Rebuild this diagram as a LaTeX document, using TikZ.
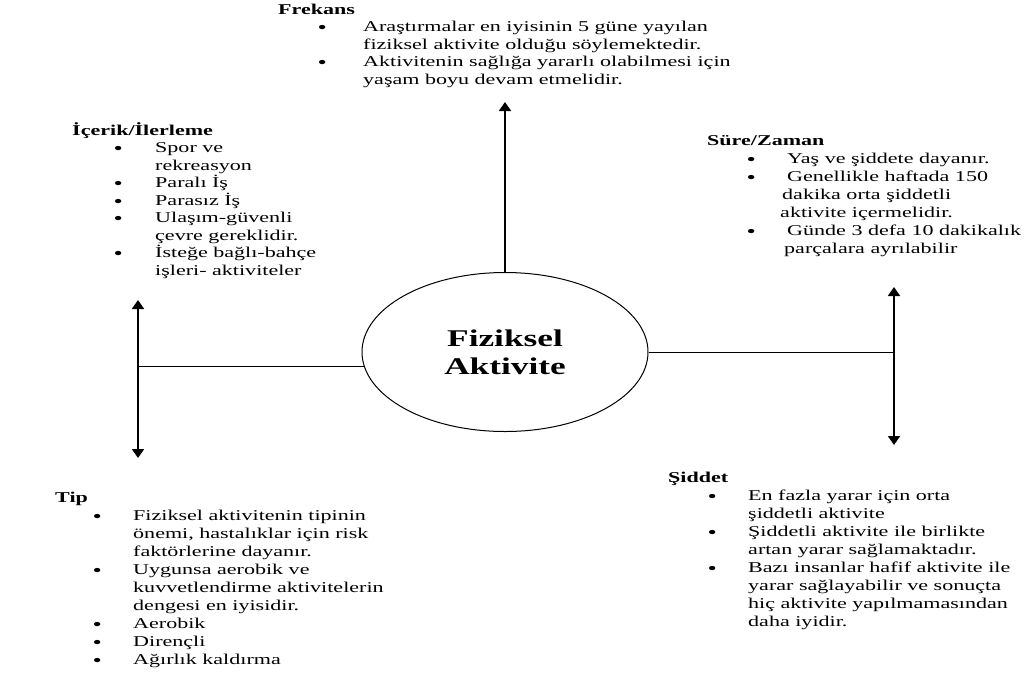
\documentclass[tikz,border=0pt]{standalone}
\usepackage{fontspec}
\setmainfont{Liberation Serif}[FakeStretch=1.47]
\usepackage{tikz}
\usetikzlibrary{arrows.meta}
\usetikzlibrary{shapes.geometric}
\usetikzlibrary{positioning}
\tikzset{
  x = 1pt,
  y = -1pt,
  >={Triangle[width=12pt,length=9pt]},
  merkez/.style = {ellipse, draw, line width=1pt, minimum width=286pt,
    minimum height=159pt, inner sep=0pt, align=center,
    font=\fontsize{24}{28}\selectfont\bfseries},
  blok/.style = {anchor=north west, inner sep=0pt,
    font=\fontsize{15}{17.5}\selectfont},
  genisblok/.style = {blok, font=\fontsize{15}{18}\selectfont},
  ok/.style = {line width=1.8pt},
  ince/.style = {line width=0.9pt},
}
\newcommand{\nokta}{\makebox[8pt]{\raisebox{-1.8pt}[0pt][0pt]{\fontsize{18}{0}\selectfont\textbullet}}}
\newcommand{\liste}[4]{%
  \begin{tabular}{@{\hspace{#1pt}}c@{\hspace{#2pt}}l@{}}
    \multicolumn{2}{@{}l@{}}{\textbf{#3}}\\
    #4
  \end{tabular}}

\begin{document}
\begin{tikzpicture}
    \useasboundingbox (0,0) rectangle (1032,675);
    \node [merkez] (fa) at (505,352) {Fiziksel\\Aktivite};
    \node [blok] (frekans) at (278,2) {\liste{40}{37}{Frekans}{%
      \nokta & Araştırmalar en iyisinin 5 güne yayılan\\
             & fiziksel aktivite olduğu söylemektedir.\\
      \nokta & Aktivitenin sağlığa yararlı olabilmesi için\\
             & yaşam boyu devam etmelidir.\\}};
    \node [blok] (icerik) at (72,122) {\liste{42}{33}{İçerik/İlerleme}{%
      \nokta & Spor ve\\
             & rekreasyon\\
      \nokta & Paralı İş\\
      \nokta & Parasız İş\\
      \nokta & Ulaşım-güvenli\\
             & çevre gereklidir.\\
      \nokta & İsteğe bağlı-bahçe\\
             & işleri- aktiviteler\\}};
    \node [genisblok] (sure) at (707,133) {\liste{40}{25}{Süre/Zaman}{%
      \nokta & \hspace{7pt}Yaş ve şiddete dayanır.\\
      \nokta & \hspace{7pt}Genellikle haftada 150\\
             & \hspace{2pt}dakika orta şiddetli\\
             & aktivite içermelidir.\\
      \nokta & \hspace{7pt}Günde 3 defa 10 dakikalık\\
             & \hspace{4pt}parçalara ayrılabilir\\}};
    \node [genisblok] (tip) at (55,490) {\liste{38}{32}{Tip}{%
      \nokta & Fiziksel aktivitenin tipinin\\
             & önemi, hastalıklar için risk\\
             & faktörlerine dayanır.\\
      \nokta & Uygunsa aerobik ve\\
             & kuvvetlendirme aktivitelerin\\
             & dengesi en iyisidir.\\
      \nokta & Aerobik\\
      \nokta & Dirençli\\
      \nokta & Ağırlık kaldırma\\}};
    \node [genisblok] (siddet) at (668,470) {\liste{40}{32}{Şiddet}{%
      \nokta & En fazla yarar için orta\\
             & şiddetli aktivite\\
      \nokta & Şiddetli aktivite ile birlikte\\
             & artan yarar sağlamaktadır.\\
      \nokta & Bazı insanlar hafif aktivite ile\\
             & yarar sağlayabilir ve sonuçta\\
             & hiç aktivite yapılmamasından\\
             & daha iyidir.\\}};
    \coordinate (ust) at (506,102);
    \coordinate (solust) at (138,300);
    \coordinate (solalt) at (138,458);
    \coordinate (sagust) at (894,287);
    \coordinate (sagalt) at (894,445);
    \draw [ok, ->] (fa.north) -- (fa.north |- ust);
    \draw [ok, <->] (solust) -- (solalt);
    \draw [ok, <->] (sagust) -- (sagalt);
    \draw [ince] (fa.186) -- (fa.186 -| solust);
    \draw [ince] (fa.east) -- (fa.east -| sagust);
  \end{tikzpicture}
\end{document}
